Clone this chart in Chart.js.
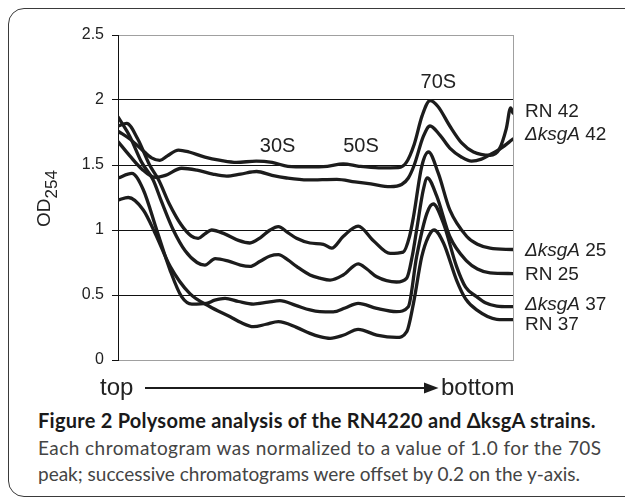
<!DOCTYPE html>
<html>
<head>
<meta charset="utf-8">
<script src="https://cdn.jsdelivr.net/npm/chart.js@4.4.1/dist/chart.umd.min.js"></script>
<style>
  html, body { margin: 0; padding: 0; background: #fff; }
  body { width: 625px; height: 497px; position: relative; overflow: hidden; }
  #frame {
    position: absolute; left: 8px; top: 8px; width: 700px; height: 489px;
    box-sizing: border-box; border: 1.5px solid #3a3a3a; border-radius: 16px;
  }
  #wrap { position: absolute; left: 0; top: 0; width: 625px; height: 405px; }
  .cap { position: absolute; left: 38px; font-family: Lato, "Open Sans", sans-serif;
         font-size: 19px; line-height: 1.2; white-space: nowrap; color: #444; }
  .cap b { color: #1a1a1a; font-size: 20px; letter-spacing: 0.25px; }
</style>
</head>
<body>
<div id="frame"></div>
<div id="wrap"><canvas id="polysome"></canvas></div>
<div class="cap" style="top:408px"><b>Figure 2 Polysome analysis of the RN4220 and ΔksgA strains.</b></div>
<div class="cap" style="top:437px; letter-spacing:0.45px">Each chromatogram was normalized to a value of 1.0 for the 70S</div>
<div class="cap" style="top:463px">peak; successive chromatograms were offset by 0.2 on the y-axis.</div>

<script>
// position along the gradient, 0 = top, 100 = bottom
const rn42X = [0, 3, 6, 8.5, 10.6, 12.5, 15.3, 18, 22, 26, 30, 35, 39, 43, 48, 53, 57, 61, 66, 71, 73, 75, 77, 79, 81, 84, 87, 90, 94.2, 96.5, 98.3, 99.4, 100];
const rn42Y = [1.76, 1.70, 1.62, 1.555, 1.535, 1.57, 1.615, 1.60, 1.56, 1.535, 1.52, 1.53, 1.52, 1.49, 1.485, 1.49, 1.508, 1.49, 1.478, 1.48, 1.52, 1.66, 1.88, 1.995, 1.95, 1.80, 1.67, 1.60, 1.575, 1.62, 1.78, 1.94, 1.90];

const ksga42X = [0, 3, 6, 9.4, 12, 16.1, 20, 24, 27.5, 31, 35.1, 39, 42.7, 48, 55.4, 60, 64, 68.9, 71.8, 73.5, 75, 77.3, 79, 81.5, 84, 87, 89.5, 92, 94.2, 97, 100];
const ksga42Y = [1.68, 1.57, 1.47, 1.405, 1.42, 1.475, 1.46, 1.43, 1.415, 1.43, 1.45, 1.42, 1.40, 1.385, 1.39, 1.37, 1.354, 1.333, 1.35, 1.40, 1.50, 1.72, 1.80, 1.73, 1.63, 1.56, 1.53, 1.545, 1.58, 1.63, 1.70];

const ksga25X = [0, 2.2, 5, 8, 10.3, 13, 16, 18.5, 20.3, 22, 23.7, 27, 30.5, 33.4, 36, 38.5, 40.6, 43, 45.2, 48.6, 52, 54.1, 57, 60.8, 64.6, 68.9, 72.2, 73.8, 74.8, 76.9, 78.6, 81.1, 84, 88.3, 91, 94.2, 100];
const ksga25Y = [1.80, 1.82, 1.70, 1.50, 1.385, 1.20, 1.04, 0.955, 0.935, 0.97, 1.0, 0.97, 0.92, 0.90, 0.94, 1.0, 1.026, 0.98, 0.936, 0.90, 0.89, 0.86, 0.95, 1.03, 0.92, 0.82, 0.83, 0.95, 1.10, 1.49, 1.60, 1.435, 1.154, 0.95, 0.89, 0.86, 0.85];

const rn25X = [0, 3, 6, 8.9, 11, 14, 17, 20, 22, 24.6, 28, 31, 33.4, 36, 38.5, 40.6, 43, 45.2, 48.6, 51.1, 53.7, 57, 60.8, 63, 65.5, 70.5, 73.1, 74.5, 75.6, 77.3, 78.3, 80.7, 84, 88.3, 91, 94.2, 100];
const rn25Y = [1.87, 1.72, 1.52, 1.385, 1.22, 1.00, 0.84, 0.75, 0.73, 0.78, 0.76, 0.73, 0.72, 0.76, 0.80, 0.81, 0.77, 0.72, 0.654, 0.63, 0.615, 0.654, 0.74, 0.70, 0.64, 0.60, 0.63, 0.80, 1.0, 1.31, 1.40, 1.26, 0.95, 0.76, 0.70, 0.67, 0.665];

const ksga37X = [0, 3.5, 6.4, 9.8, 13.2, 16.1, 18.7, 22.4, 24.5, 27.1, 30.5, 34.3, 38, 41, 45, 48.6, 51.1, 54.5, 57.5, 60.8, 65.5, 70.5, 73.5, 75.6, 78.2, 79.8, 82.4, 85.7, 88, 90.8, 93, 95.9, 100];
const ksga37Y = [1.40, 1.435, 1.31, 1.00, 0.69, 0.487, 0.43, 0.436, 0.46, 0.474, 0.45, 0.43, 0.445, 0.456, 0.42, 0.385, 0.372, 0.37, 0.40, 0.436, 0.397, 0.372, 0.41, 0.795, 1.128, 1.20, 1.05, 0.72, 0.56, 0.487, 0.44, 0.415, 0.41];

const rn37X = [0, 2.6, 6.4, 9.4, 13.2, 18.2, 23.3, 28.4, 31, 34.3, 37.5, 40.6, 45.2, 48.6, 51.1, 53.7, 57, 60.8, 65.5, 70.5, 73.1, 74.8, 76.9, 78.6, 80, 82.4, 85.7, 88, 90.8, 95.9, 100];
const rn37Y = [1.23, 1.25, 1.154, 0.975, 0.72, 0.51, 0.41, 0.333, 0.29, 0.256, 0.275, 0.295, 0.251, 0.205, 0.18, 0.167, 0.19, 0.236, 0.192, 0.174, 0.218, 0.436, 0.795, 0.95, 1.0, 0.90, 0.615, 0.47, 0.385, 0.313, 0.31];

const yTicks = [0, 0.5, 1, 1.5, 2, 2.5];

// peak labels
const peakNames = ['30S', '50S', '70S'];
const peakX = [40.4, 61.5, 81.1];
const peakY = [1.6, 1.6, 2.09];

// series labels at the right
const labelStrain = ['RN', 'ΔksgA', 'ΔksgA', 'RN', 'ΔksgA', 'RN'];
const labelTemp = ['42', '42', '25', '25', '37', '37'];
const labelY = [1.87, 1.69, 0.80, 0.615, 0.385, 0.23];

const FONT = '"Liberation Sans", Arial, sans-serif';
const INK = '#1c1c1c';

function pts(xs, ys) {
    return xs.map((v, i) => ({ x: v, y: ys[i] }));
}

const series = [
    pts(rn42X, rn42Y), pts(ksga42X, ksga42Y),
    pts(ksga25X, ksga25Y), pts(rn25X, rn25Y),
    pts(ksga37X, ksga37Y), pts(rn37X, rn37Y)
];

const annot = {
    id: 'annot',
    afterDraw(chart) {
        const { ctx, chartArea, scales: { x, y } } = chart;
        ctx.save();
        ctx.fillStyle = '#222';

        // peak names
        ctx.font = '20px ' + FONT;
        ctx.textAlign = 'center';
        ctx.textBaseline = 'alphabetic';
        peakNames.forEach((t, i) => {
            ctx.fillText(t, x.getPixelForValue(peakX[i]), y.getPixelForValue(peakY[i]));
        });

        // right labels
        ctx.textAlign = 'left';
        labelStrain.forEach((s, i) => {
            let px = chartArea.right + 12;
            const py = y.getPixelForValue(labelY[i]);
            ctx.font = (s === 'RN' ? '' : 'italic ') + '19px ' + FONT;
            ctx.fillText(s, px, py);
            px += ctx.measureText(s).width;
            ctx.font = '19px ' + FONT;
            ctx.fillText(' ' + labelTemp[i], px, py);
        });

        // y title OD254
        ctx.save();
        ctx.translate(50, 227);
        ctx.rotate(-Math.PI / 2);
        ctx.font = '19px ' + FONT;
        ctx.fillText('OD', 0, 0);
        const w = ctx.measureText('OD').width;
        ctx.font = '17px ' + FONT;
        ctx.fillText('254', w, 7);
        ctx.restore();

        // top -> bottom arrow
        const base = chartArea.bottom + 35;
        ctx.font = '24px ' + FONT;
        ctx.textAlign = 'left';
        ctx.fillText('top', 100, base);
        ctx.fillText('bottom', 441, base);
        ctx.strokeStyle = INK;
        ctx.lineWidth = 2;
        ctx.beginPath();
        ctx.moveTo(145, base - 7);
        ctx.lineTo(428, base - 7);
        ctx.stroke();
        ctx.fillStyle = INK;
        ctx.beginPath();
        ctx.moveTo(438.5, base - 7);
        ctx.lineTo(424, base - 12.5);
        ctx.lineTo(424, base - 1.5);
        ctx.closePath();
        ctx.fill();
        ctx.restore();
    }
};

new Chart(document.getElementById('polysome'), {
    type: 'line',
    data: {
        datasets: series.map(d => ({
            data: d,
            borderColor: INK,
            borderWidth: 3.3,
            pointRadius: 0,
            cubicInterpolationMode: 'monotone',
            borderCapStyle: 'round',
            borderJoinStyle: 'round',
            fill: false
        }))
    },
    options: {
        responsive: true,
        maintainAspectRatio: false,
        animation: false,
        layout: { padding: { top: 35, right: 112, bottom: 45, left: 0 } },
        plugins: { legend: { display: false }, tooltip: { enabled: false } },
        scales: {
            x: {
                type: 'linear', min: 0, max: 100,
                ticks: { display: false, stepSize: 100 },
                grid: { color: c => c.tick.value === 100 ? '#a0a0a0' : 'rgba(0,0,0,0)', drawTicks: false },
                border: { color: '#a0a0a0' },
                afterFit: s => { s.height = 0; }
            },
            y: {
                min: 0, max: 2.5,
                afterBuildTicks: s => { s.ticks = yTicks.map(v => ({ value: v })); },
                ticks: { color: '#222', font: { family: FONT, size: 16 }, padding: 8, callback: v => String(v) },
                grid: {
                    color: c => (c.tick.value === 2.5 || c.tick.value === 0) ? '#a0a0a0' : '#111',
                    tickColor: '#111', tickLength: 6
                },
                border: { color: '#111' },
                afterFit: s => { s.width = 118; }
            }
        }
    },
    plugins: [annot]
});
</script>
</body>
</html>
